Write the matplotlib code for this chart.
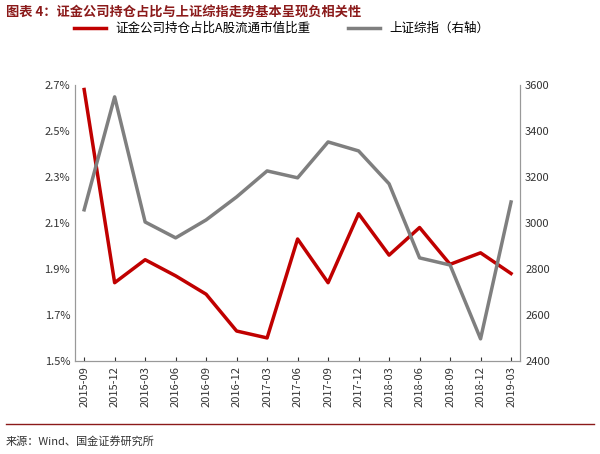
import matplotlib
matplotlib.use("Agg")
import matplotlib.pyplot as plt
from matplotlib.ticker import FuncFormatter

plt.rcParams['font.family'] = ['Noto Sans CJK SC', 'DejaVu Sans']

dates = ["2015-09","2015-12","2016-03","2016-06","2016-09","2016-12","2017-03","2017-06",
         "2017-09","2017-12","2018-03","2018-06","2018-09","2018-12","2019-03"]
share = [2.68,1.84,1.94,1.87,1.79,1.63,1.60,2.03,1.84,2.14,1.96,2.08,1.92,1.97,1.88]
sh_index = [3057,3548,3004,2935,3013,3113,3226,3196,3352,3313,3170,2848,2817,2496,3091]

fig = plt.figure(figsize=(6.0,4.54), dpi=100)
ax = fig.add_axes([0.125, 0.205, 0.742, 0.608])
ax2 = ax.twinx()
x = range(len(dates))
l1, = ax.plot(x, share, color='#C00000', lw=2.5, label='证金公司持仓占比A股流通市值比重')
l2, = ax2.plot(x, sh_index, color='#7F7F7F', lw=2.5, label='上证综指（右轴）')
ax.set_ylim(1.5,2.7)
ax.set_yticks([1.5,1.7,1.9,2.1,2.3,2.5,2.7])
ax.yaxis.set_major_formatter(FuncFormatter(lambda v,p: f"{v:.1f}%"))
ax2.set_ylim(2400,3600)
ax2.set_yticks(range(2400,3601,200))
ax.set_xlim(-0.3, len(dates)-0.7)
ax.set_xticks(list(x))
ax.set_xticklabels(dates, rotation=90, fontsize=8)
for a in (ax, ax2):
    a.tick_params(labelsize=8, length=0, colors='#333333')
    a.spines['top'].set_visible(False)
    for s in ['left','right','bottom']:
        a.spines[s].set_color('#999999')
ax.tick_params(axis='x', length=3, direction='in')
fig.legend(handles=[l1,l2], loc='center', bbox_to_anchor=(0.47,0.937), ncol=2,
           frameon=False, fontsize=9, handlelength=2.5, columnspacing=3)
fig.text(0.01, 0.99, "图表 4：证金公司持仓占比与上证综指走势基本呈现负相关性", fontsize=9.5,
         fontweight='bold', color='#8B1A1A', style='italic', va='top')
fig.text(0.01, 0.02, "来源：Wind、国金证券研究所", fontsize=8, color='#333333')
fig.add_artist(plt.Line2D([0.01,0.99],[0.065,0.065], color='#8B1A1A', lw=1))
fig.savefig("out.png", dpi=100)
